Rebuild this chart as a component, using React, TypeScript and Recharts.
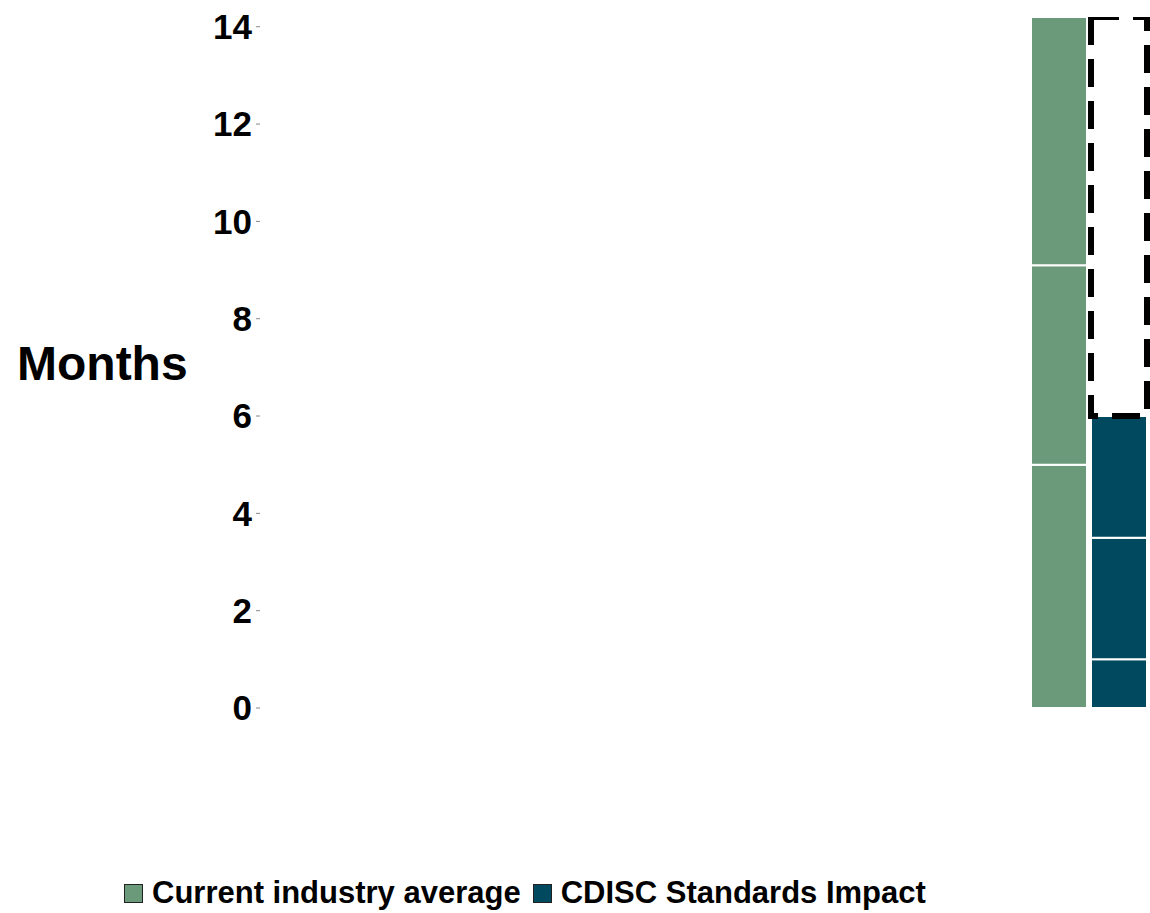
import React from 'react'
import { BarChart, Bar, XAxis, YAxis } from 'recharts'

// segment values in months, bottom to top
const industrySegments = [5.0, 4.1, 5.1]
const cdiscSegments = [1.0, 2.5, 2.5]
const savedMonths = 8.2 // dashed outline above the CDISC bar
const yTicks = [0, 2, 4, 6, 8, 10, 12, 14]
const legendItems = ['Current industry average', 'CDISC Standards Impact']

const GREEN = '#6A9A7A'
const TEAL = '#00495E'
const FONT = '"Liberation Sans", Arial, sans-serif'

const row: { [key: string]: string | number } = { name: 'Time to submission' }
industrySegments.forEach((v, i) => (row[`ind${i}`] = v))
cdiscSegments.forEach((v, i) => (row[`cd${i}`] = v))
row.saved = savedMonths
const data = [row]

export default function App() {
  return (
    <div style={{ position: 'absolute', left: 0, top: 0, width: 1150, height: 913, background: '#fff', fontFamily: FONT }}>
      <BarChart
        width={1150}
        height={780}
        data={data}
        margin={{ top: 17, right: 0, bottom: 72, left: 0 }}
        barCategoryGap={0}
        barGap={4}
      >
        <XAxis dataKey="name" hide padding={{ left: 768, right: 0 }} />
        <YAxis
          width={260}
          domain={[0, 14.2]}
          ticks={yTicks}
          interval={0}
          allowDataOverflow
          axisLine={false}
          tickSize={4}
          tickMargin={4}
          tickLine={{ stroke: '#888' }}
          tick={{ fill: '#000', fontSize: 35, fontWeight: 'bold', fontFamily: FONT }}
          label={{
            value: 'Months',
            position: 'insideLeft',
            offset: 17,
            style: { fill: '#000', fontSize: 48, fontWeight: 'bold', fontFamily: FONT },
          }}
        />
        {industrySegments.map((_, i) => (
          <Bar key={`ind${i}`} dataKey={`ind${i}`} stackId="ind" fill={GREEN} stroke="#fff" strokeWidth={2} barSize={56} isAnimationActive={false} />
        ))}
        {cdiscSegments.map((_, i) => (
          <Bar key={`cd${i}`} dataKey={`cd${i}`} stackId="cd" fill={TEAL} stroke="#fff" strokeWidth={2} barSize={56} isAnimationActive={false} />
        ))}
        <Bar
          dataKey="saved"
          stackId="cd"
          fill="none"
          stroke="#000"
          strokeWidth={6}
          strokeDasharray="28 14"
          strokeDashoffset={0}
          barSize={56}
          isAnimationActive={false}
        />
      </BarChart>
      <div style={{ position: 'absolute', left: 124, top: 875, display: 'flex', alignItems: 'center', fontSize: 31, fontWeight: 'bold', whiteSpace: 'nowrap' }}>
        {legendItems.map((label, i) => (
          <div key={label} style={{ display: 'flex', alignItems: 'center', marginRight: 12 }}>
            <span style={{ width: 17, height: 17, background: i === 0 ? GREEN : TEAL, border: '1.5px solid #222', marginRight: 9, display: 'inline-block' }} />
            <span>{label}</span>
          </div>
        ))}
      </div>
    </div>
  )
}
